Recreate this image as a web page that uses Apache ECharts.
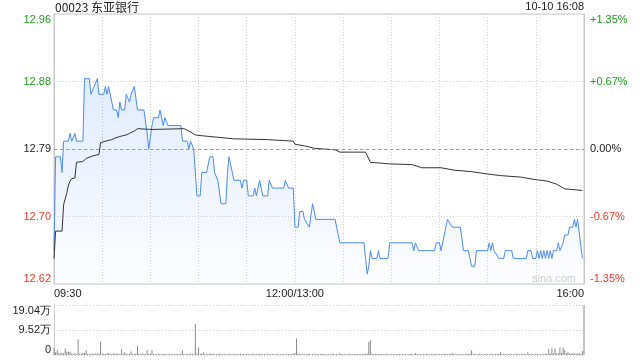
<!DOCTYPE html>
<html><head><meta charset="utf-8">
<script src="https://cdn.jsdelivr.net/npm/echarts@6/dist/echarts.min.js"></script>
<style>html,body{margin:0;padding:0;background:#fff}#c{width:640px;height:360px}</style>
</head><body><div id="c"></div>
<script>
// ---- data ----
const stockTitle = '00023 东亚银行';
const stampText = '10-10 16:08';
const prevClose = 12.79;
const pctRange = 1.35;                 // +/- percent shown
const pctTickLabels = ['-1.35%', '-0.67%', '0.00%', '+0.67%', '+1.35%'];
const timeLabels = {0: '09:30', 150: '12:00/13:00', 330: '16:00'};
const sessionMinutes = 330;            // 09:30-12:00 + 13:00-16:00
const volMax = 19.04;                  // 万
// minutes since 09:30 (lunch break removed) and last price
const priceMinutes = [0,1,4,5,6,9,10,11,12,13,14,18,19,22,23,25,26,27,28,31,32,33,34,35,37,39,40,41,42,44,45,46,47,48,50,52,56,58,59,61,62,65,66,67,68,69,71,79,80,83,84,85,86,87,88,89,91,92,95,97,99,100,101,102,103,104,107,108,109,110,111,112,116,117,118,120,121,124,125,126,127,128,129,130,133,134,135,136,143,144,145,146,149,150,152,153,155,156,157,159,161,162,163,175,178,193,194,195,196,197,198,201,202,203,208,209,223,224,225,226,227,237,238,240,241,243,244,245,246,248,253,255,258,260,262,263,270,271,272,273,274,275,277,280,281,285,286,294,295,297,298,300,301,302,303,304,305,306,307,308,309,310,311,313,314,315,317,318,320,321,323,324,325,326,327,329];
const prices = [12.66,12.78,12.78,12.76,12.80,12.80,12.81,12.80,12.80,12.81,12.80,12.80,12.88,12.88,12.86,12.87,12.87,12.88,12.86,12.86,12.87,12.86,12.87,12.87,12.84,12.84,12.83,12.85,12.84,12.84,12.86,12.86,12.85,12.86,12.87,12.84,12.84,12.81,12.79,12.82,12.83,12.83,12.84,12.83,12.82,12.83,12.82,12.82,12.80,12.80,12.79,12.80,12.80,12.79,12.79,12.73,12.73,12.76,12.76,12.78,12.78,12.76,12.76,12.75,12.75,12.72,12.72,12.76,12.78,12.77,12.76,12.75,12.75,12.74,12.75,12.75,12.73,12.73,12.74,12.73,12.73,12.75,12.75,12.73,12.73,12.75,12.75,12.74,12.74,12.75,12.75,12.74,12.74,12.69,12.69,12.71,12.71,12.70,12.70,12.69,12.72,12.72,12.70,12.70,12.67,12.67,12.65,12.63,12.64,12.66,12.65,12.65,12.66,12.65,12.65,12.67,12.67,12.66,12.67,12.67,12.66,12.66,12.67,12.67,12.66,12.68,12.68,12.70,12.70,12.69,12.69,12.66,12.66,12.64,12.64,12.66,12.66,12.67,12.66,12.67,12.66,12.66,12.65,12.65,12.66,12.66,12.65,12.65,12.66,12.66,12.65,12.65,12.66,12.65,12.66,12.65,12.66,12.65,12.66,12.65,12.66,12.65,12.66,12.66,12.67,12.66,12.67,12.68,12.68,12.69,12.69,12.70,12.69,12.70,12.70,12.65];
// average price line
const avgMinutes = [0,1,5,6,7,8,9,10,11,13,14,18,20,24,28,29,32,36,38,41,45,47,50,52,61,81,84,88,92,102,112,133,149,150,156,162,168,175,178,194,197,209,223,229,241,249,260,270,278,291,299,307,313,318,329];
const avgPrices = [12.650,12.685,12.685,12.719,12.721,12.734,12.744,12.749,12.752,12.753,12.773,12.774,12.778,12.781,12.783,12.798,12.800,12.802,12.804,12.806,12.808,12.810,12.813,12.816,12.815,12.816,12.813,12.808,12.807,12.805,12.803,12.802,12.800,12.796,12.794,12.791,12.790,12.789,12.786,12.786,12.773,12.771,12.770,12.766,12.766,12.763,12.761,12.758,12.756,12.754,12.751,12.749,12.745,12.739,12.737];
// volume per minute from 09:30 (万股)
const volumes = [
2.9,1.0,2.0,0.8,0.6,0.9,0.7,2.5,1.3,1.2,
1.2,0.6,0.5,0.7,0.4,6.0,0.6,0.5,0.8,0.9,
1.9,0.5,0.4,0.6,0.5,0.4,0.7,0.5,0.6,5.0,
0.6,0.5,0.4,0.7,0.8,0.5,0.4,0.7,0.5,0.6,
0.5,0.4,2.2,0.6,1.0,0.5,0.4,0.6,1.3,0.5,
0.4,0.6,3.4,0.5,0.4,0.6,0.5,0.4,1.8,0.5,
0.6,1.8,0.5,0.4,0.3,0.5,0.4,0.3,0.5,0.4,
0.3,0.4,0.5,0.3,0.4,0.3,0.5,0.4,0.3,0.6,
1.8,0.4,0.3,0.5,0.4,0.6,0.5,0.4,11.8,0.7,
2.9,0.5,0.6,1.0,0.4,0.5,0.3,0.6,0.4,0.5,
0.3,0.4,0.5,0.6,0.4,0.3,0.5,0.4,0.3,0.5,
0.4,0.3,0.5,0.4,0.3,0.4,0.5,0.3,0.4,0.3,
0.5,0.4,0.3,0.4,0.5,0.3,0.4,0.3,0.5,0.4,
0.3,0.4,0.3,0.5,0.4,0.3,0.4,0.3,0.4,0.5,
0.3,0.4,0.3,0.4,0.3,0.5,0.4,0.3,0.4,0.6,
0.8,6.3,0.6,0.5,0.4,0.5,0.4,0.3,0.5,0.4,
0.3,0.4,0.5,0.3,0.4,0.3,0.4,0.5,0.3,0.4,
0.3,0.4,0.3,0.5,0.4,0.3,0.4,0.3,0.7,0.4,
0.3,0.4,0.3,0.4,0.5,0.3,0.4,0.3,0.4,0.3,
0.4,0.3,0.5,0.4,0.6,0.5,5.0,5.7,0.6,0.4,
0.5,0.4,0.3,0.4,0.3,0.4,0.3,0.5,0.4,0.3,
0.4,0.3,0.4,0.3,0.5,0.4,0.3,0.4,0.3,0.4,
0.3,0.4,0.5,0.4,0.3,0.8,0.4,0.3,0.4,0.3,
0.4,0.3,0.5,0.4,0.3,0.4,0.3,0.4,0.5,0.3,
0.4,0.3,0.4,0.5,0.4,0.3,0.4,0.5,0.8,0.4,
0.3,0.4,0.3,0.5,0.4,0.3,0.4,0.5,0.4,0.6,
1.8,0.5,0.4,0.3,0.4,0.5,0.4,0.3,0.4,0.5,
0.4,0.3,0.5,0.4,0.3,0.4,0.5,0.4,1.0,0.4,
0.5,0.4,0.3,0.4,0.5,0.4,0.3,0.4,0.5,0.4,
0.3,0.4,0.5,0.4,0.3,1.0,0.4,0.5,0.4,0.3,
0.4,0.5,0.4,0.3,0.5,0.4,0.6,0.5,2.2,0.6,
2.5,0.7,2.5,0.6,0.7,2.9,0.8,2.9,1.8,0.7,
1.0,0.6,0.5,0.7,0.6,0.5,0.6,0.7,0.5,1.5,
19.04];

// ---- chart ----
const FONT = 'Arial, "Liberation Sans", sans-serif';
const UP = '#1f9f1f', DOWN = '#f2362a', FLAT = '#222';
const L = 54, R = 56;
const pairs = (xs, ys) => xs.map((x, i) => [x, ys[i]]);
const pctColor = v => Math.abs(v) < 1e-9 ? FLAT : (v > 0 ? UP : DOWN);
const step = pctRange / 2;

const chart = echarts.init(document.getElementById('c'), null, {renderer: 'canvas'});
chart.setOption({
  animation: false,
  textStyle: {fontFamily: FONT},
  grid: [
    {left: L, right: R, top: 14, height: 270, show: true, borderColor: '#c8c8c8', borderWidth: 1},
    {left: L, right: R, top: 305, height: 50}
  ],
  xAxis: [
    {type: 'value', gridIndex: 0, min: 0, max: sessionMinutes, interval: 30,
     axisLine: {show: false}, axisTick: {show: false},
     splitLine: {show: true, lineStyle: {color: '#cfcfcf', type: [1, 2]}},
     axisLabel: {show: true, margin: 4, fontSize: 11, color: '#222', fontFamily: FONT,
       alignMinLabel: 'left', alignMaxLabel: 'right', hideOverlap: false,
       formatter: v => timeLabels[Math.round(v)] || ''}},
    {type: 'value', gridIndex: 1, min: 0, max: sessionMinutes,
     axisLine: {show: false}, axisTick: {show: false}, axisLabel: {show: false}, splitLine: {show: false}}
  ],
  yAxis: [
    {type: 'value', gridIndex: 0, show: false, scale: true,
     min: prevClose * (1 - pctRange / 100), max: prevClose * (1 + pctRange / 100),
     splitLine: {show: false}},
    {type: 'value', gridIndex: 0, position: 'left', min: -pctRange, max: pctRange, interval: step,
     axisLine: {show: true, lineStyle: {color: '#c8c8c8'}}, axisTick: {show: false},
     splitLine: {show: true, lineStyle: {color: '#d2d2d2', type: [1, 2]}},
     axisLabel: {margin: 3, fontSize: 11, fontFamily: FONT,
       verticalAlignMaxLabel: 'top', verticalAlignMinLabel: 'bottom',
       color: v => pctColor(v),
       formatter: v => (prevClose * (1 + v / 100)).toFixed(2)}},
    {type: 'value', gridIndex: 0, position: 'right', min: -pctRange, max: pctRange, interval: step,
     axisLine: {show: true, lineStyle: {color: '#c8c8c8'}}, axisTick: {show: false},
     splitLine: {show: false},
     axisLabel: {margin: 6, fontSize: 11, fontFamily: FONT,
       verticalAlignMaxLabel: 'top', verticalAlignMinLabel: 'bottom',
       color: v => pctColor(v),
       formatter: v => pctTickLabels[Math.round(v / step) + 2]}},
    {type: 'value', gridIndex: 1, min: 0, max: volMax, interval: volMax / 2,
     axisLine: {show: true, lineStyle: {color: '#c8c8c8'}}, axisTick: {show: false},
     splitLine: {show: true, lineStyle: {color: '#cfcfcf', type: [1, 2]}},
     axisLabel: {margin: 3, fontSize: 11, color: '#222', fontFamily: FONT,
       verticalAlignMaxLabel: 'top', verticalAlignMinLabel: 'bottom',
       formatter: v => v === 0 ? '0' : v.toFixed(2) + '万'}}
  ],
  series: [
    {type: 'line', xAxisIndex: 0, yAxisIndex: 0, data: pairs(priceMinutes, prices),
     symbol: 'none', lineStyle: {color: '#4a8af4', width: 1},
     areaStyle: {origin: 'start', color: new echarts.graphic.LinearGradient(0, 0, 0, 1, [
       {offset: 0, color: 'rgba(74,138,244,0.24)'}, {offset: 1, color: 'rgba(74,138,244,0.02)'}])},
     markLine: {silent: true, symbol: 'none', label: {show: false},
       lineStyle: {color: '#9a9a9a', type: [3, 3], width: 1},
       data: [{yAxis: prevClose}]},
     z: 3},
    {type: 'line', xAxisIndex: 0, yAxisIndex: 0, data: pairs(avgMinutes, avgPrices),
     symbol: 'none', lineStyle: {color: '#333', width: 1}, z: 4},
    {type: 'bar', xAxisIndex: 1, yAxisIndex: 3, data: volumes.map((v, i) => [i, v]),
     barWidth: 1, itemStyle: {color: '#8a8a8a'}}
  ],
  graphic: [
    {type: 'text', left: 55, top: 1, style: {text: stockTitle, font: '12px "Noto Sans CJK SC", ' + FONT, fill: '#222'}},
    {type: 'text', right: 56, top: 1, style: {text: stampText, font: '11px ' + FONT, fill: '#222'}},
    {type: 'text', left: 532, top: 273, style: {text: 'sina.com', font: '11px ' + FONT, fill: '#cfcfcf'}}
  ]
});
</script></body></html>
